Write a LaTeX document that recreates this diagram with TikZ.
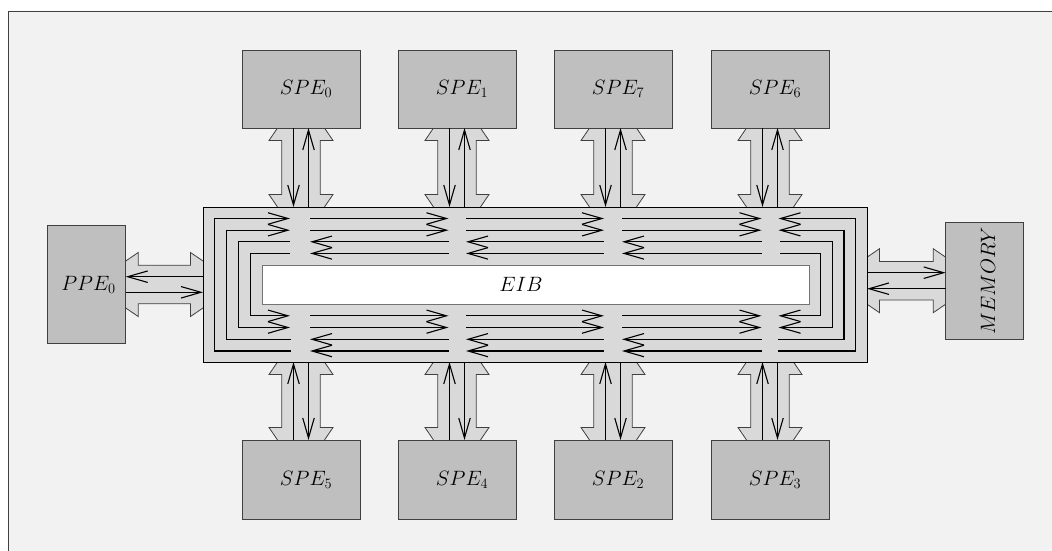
\documentclass[tikz,border=0pt]{standalone}
\usetikzlibrary{arrows.meta,calc}
\pgfdeclarelayer{bgzero}
\pgfdeclarelayer{bgone}
\pgfsetlayers{bgzero,bgone,main}
\definecolor{bgc}{HTML}{F2F2F2}
\definecolor{boxc}{HTML}{BFBFBF}
\definecolor{busc}{HTML}{D9D9D9}
\definecolor{edgec}{HTML}{404040}
\tikzset{
 blk/.style={draw=edgec, fill=boxc, line width=0.8pt, minimum width=118pt, minimum height=78pt, inner sep=0pt, outer sep=0pt},
 lbl/.style={font=\fontsize{22}{26}\selectfont, inner sep=0pt},
 ar/.style={line width=1.1pt, -{Straight Barb[length=20pt,width=11.5pt]}},
 link/.style={draw=edgec, fill=busc, line width=0.8pt},
}
\newcommand\vlinkpoly[2]{%
 \path[link] ($(#1)+(-19.2,12.5)$) -- ($(#1)+(-32,12.5)$) -- ($(#1)+(0,-34.5)$) -- ($(#1)+(32,12.5)$) -- ($(#1)+(19.2,12.5)$) -- ($(#2)+(19.2,-12.5)$) -- ($(#2)+(32,-12.5)$) -- ($(#2)+(0,34.5)$) -- ($(#2)+(-32,-12.5)$) -- ($(#2)+(-19.2,-12.5)$) -- cycle;}
\newcommand\hlinkpoly[2]{%
 \path[link] ($(#1)+(12.5,-19.3)$) -- ($(#1)+(12.5,-32)$) -- ($(#1)+(-34.5,0)$) -- ($(#1)+(12.5,32)$) -- ($(#1)+(12.5,19.3)$) -- ($(#2)+(-12.5,19.3)$) -- ($(#2)+(-12.5,32)$) -- ($(#2)+(34.5,0)$) -- ($(#2)+(-12.5,-32)$) -- ($(#2)+(-12.5,-19.3)$) -- cycle;}
\begin{document}
\begin{tikzpicture}[x=1pt,y=-1pt]
\useasboundingbox (0,0) rectangle (1052,551);
% bus
\node[draw=black, fill=busc, line width=0.8pt, minimum width=664pt, minimum height=155pt, inner sep=0pt, outer sep=0pt] (eib) at (535,284.5) {};
\node[draw=black!55, fill=white, line width=1pt, minimum width=547pt, minimum height=39pt, inner sep=0pt, outer sep=0pt,
      label={[lbl,xshift=-14.5pt]center:$EIB$}] (eibin) at (535.5,284.5) {};
% boxes
\node[blk, label={[lbl,xshift=5pt]center:$SPE_0$}] (spe0) at (301,89) {};
\node[blk, label={[lbl,xshift=5pt]center:$SPE_1$}] (spe1) at (457,89) {};
\node[blk, label={[lbl,xshift=5pt]center:$SPE_7$}] (spe7) at (613,89) {};
\node[blk, label={[lbl,xshift=5pt]center:$SPE_6$}] (spe6) at (770,89) {};
\node[blk, minimum height=79pt, label={[lbl,xshift=5pt]center:$SPE_5$}] (spe5) at (301,479.5) {};
\node[blk, minimum height=79pt, label={[lbl,xshift=5pt]center:$SPE_4$}] (spe4) at (457,479.5) {};
\node[blk, minimum height=79pt, label={[lbl,xshift=5pt]center:$SPE_2$}] (spe2) at (613,479.5) {};
\node[blk, minimum height=79pt, label={[lbl,xshift=5pt]center:$SPE_3$}] (spe3) at (770,479.5) {};
\node[blk, minimum width=78.4pt, minimum height=117.6pt, label={[lbl,xshift=2pt]center:$PPE_0$}] (ppe) at (86.5,284.5) {};
\node[blk, minimum width=77.6pt, minimum height=116.7pt] (mem) at (984.5,280.7) {};
\node[lbl, rotate=90] (memtxt) at ($(mem.center)+(3.5,0)$) {$MEMORY$};
% link end coordinates
\foreach \s in {spe0,spe1,spe7,spe6}{\coordinate (\s e) at (\s.south |- eib.north);}
\foreach \s in {spe5,spe4,spe2,spe3}{\coordinate (\s e) at (\s.north |- eib.south);}
\coordinate (pl) at (eib.west |- ppe.east);
\coordinate (ml) at (eib.east |- mem.west);
% background and link bodies
\begin{pgfonlayer}{bgzero}
 \begin{scope}
 \clip (0,0) rectangle (1052,551);
 \fill[white] (0,0) rectangle (1052,551);
 \draw[draw=edgec, fill=bgc, line width=0.8pt] (8,11) rectangle (1080,580);
 \end{scope}
\end{pgfonlayer}
\begin{pgfonlayer}{bgone}
 \foreach \s in {spe0,spe1,spe7,spe6}{\vlinkpoly{\s.south}{\s e}}
 \foreach \s in {spe5,spe4,spe2,spe3}{\vlinkpoly{\s e}{\s.north}}
 \hlinkpoly{ppe.east}{pl}
 \hlinkpoly{ml}{mem.west}
\end{pgfonlayer}
% link wires
\foreach \s in {spe0,spe1,spe7,spe6}{
 \draw[ar] ($(\s.south)+(-7.5,0)$) -- ($(\s e)+(-7.5,0)$);
 \draw[ar] ($(\s e)+(7.5,0)$) -- ($(\s.south)+(7.5,0)$);
}
\foreach \s in {spe5,spe4,spe2,spe3}{
 \draw[ar] ($(\s.north)+(-7.5,0)$) -- ($(\s e)+(-7.5,0)$);
 \draw[ar] ($(\s e)+(7.5,0)$) -- ($(\s.north)+(7.5,0)$);
}
\draw[ar] ($(pl)+(0,-7.8)$) -- ($(ppe.east)+(0,-7.8)$);
\draw[ar] ($(ppe.east)+(0,7.8)$) -- ($(pl)+(0,7.8)$);
\draw[ar] ($(ml)+(0,-8)$) -- ($(mem.west)+(0,-8)$);
\draw[ar] ($(mem.west)+(0,8)$) -- ($(ml)+(0,8)$);
% rings
\foreach \t/\b/\l/\r in {218.5/351/214.5/855.7, 230.2/339.3/226.5/844}{
 \draw[ar] (291,\b) -- (\l,\b) -- (\l,\t) -- (290,\t);
 \draw[ar] (778,\b) -- (\r,\b) -- (\r,\t) -- (778.5,\t);
 \foreach \a/\z in {310/448.5, 466/604, 622/761.5}{
   \draw[ar] (\a,\t) -- (\z,\t);
   \draw[ar] (\z,\b) -- (\a,\b);
 }
}
\foreach \t/\b/\l/\r in {241.8/327.5/238.5/832.3, 253.4/315.8/250.3/820.7}{
 \draw[ar] (290,\t) -- (\l,\t) -- (\l,\b) -- (290,\b);
 \draw[ar] (780,\t) -- (\r,\t) -- (\r,\b) -- (778.5,\b);
 \foreach \a/\z in {310/448.5, 466/604, 622/761.5}{
   \draw[ar] (\z,\t) -- (\a,\t);
   \draw[ar] (\a,\b) -- (\z,\b);
 }
}
\end{tikzpicture}
\end{document}
